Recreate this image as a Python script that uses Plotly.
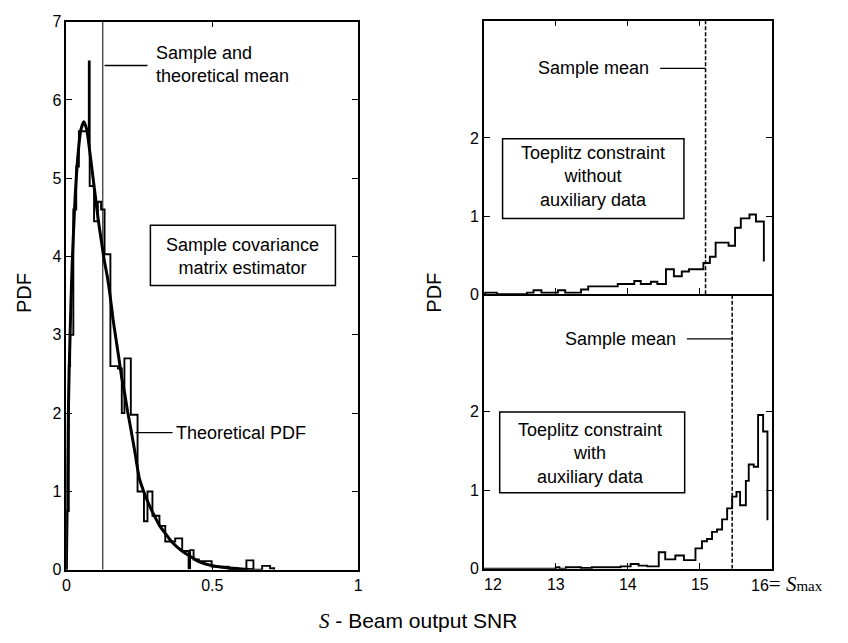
import plotly.graph_objects as go

W, H = 848, 643

# ---------------- data ----------------
# Left panel: sample covariance matrix estimator (histogram as step series)
left_hist_x = [0.000, 0.0085, 0.013, 0.024, 0.034, 0.043, 0.077, 0.080, 0.095, 0.108,
               0.119, 0.131, 0.151, 0.177, 0.190, 0.199, 0.221, 0.244, 0.266, 0.278,
               0.295, 0.319, 0.339, 0.373, 0.397, 0.419, 0.424, 0.436, 0.454, 0.498,
               0.556, 0.617, 0.641, 0.671, 0.698, 0.712]
left_hist_y = [0.75, 2.6, 3.0, 4.6, 5.15, 5.6, 6.49, 4.9, 4.45, 4.7,
               4.6, 4.03, 2.6, 2.57, 2.0, 2.7, 1.98, 1.0, 0.62, 1.0,
               0.69, 0.56, 0.36, 0.40, 0.24, 0.02, 0.25, 0.13, 0.11, 0.04,
               0.01, 0.12, 0.0, 0.05, 0.02, 0.0]

theory_x = [0.000, 0.003, 0.006, 0.010, 0.015, 0.020, 0.025, 0.030, 0.040, 0.050,
            0.060, 0.070, 0.080, 0.090, 0.100, 0.110, 0.120, 0.130, 0.140, 0.150,
            0.160, 0.170, 0.180, 0.190, 0.200, 0.210, 0.220, 0.235, 0.250, 0.265,
            0.280, 0.300, 0.320, 0.340, 0.360, 0.380, 0.400, 0.425, 0.450, 0.480,
            0.510, 0.540, 0.570, 0.600, 0.640]
theory_y = [0.0, 0.9, 1.8, 2.6, 3.3, 3.9, 4.35, 4.75, 5.3, 5.62,
            5.72, 5.62, 5.35, 5.05, 4.75, 4.45, 4.2, 3.95, 3.75, 3.5,
            3.2, 2.95, 2.7, 2.45, 2.25, 2.02, 1.82, 1.5, 1.17, 1.0,
            0.86, 0.7, 0.56, 0.46, 0.36, 0.29, 0.23, 0.17, 0.11, 0.07,
            0.045, 0.03, 0.02, 0.01, 0.0]

left_mean = 0.125

# Right top: Toeplitz constraint without auxiliary data
top_x = [12.00, 12.02, 12.18, 12.60, 12.69, 12.80, 13.03, 13.13, 13.35, 13.45,
         13.86, 14.09, 14.18, 14.32, 14.41, 14.53, 14.64, 14.75, 14.85, 15.05,
         15.14, 15.22, 15.40, 15.49, 15.57, 15.69, 15.78, 15.89]
top_y = [0.0, 0.02, 0.0, 0.02, 0.05, 0.02, 0.05, 0.02, 0.06, 0.10,
         0.13, 0.17, 0.13, 0.16, 0.13, 0.32, 0.23, 0.29, 0.32, 0.40,
         0.48, 0.66, 0.62, 0.85, 0.97, 1.02, 0.93, 0.42]
top_mean = 15.08

# Right bottom: Toeplitz constraint with auxiliary data
bot_x = [12.00, 13.00, 13.05, 13.14, 13.35, 13.50, 13.90, 14.04, 14.15, 14.27,
         14.43, 14.52, 14.66, 14.78, 14.94, 15.03, 15.10, 15.17, 15.24, 15.31,
         15.38, 15.45, 15.51, 15.56, 15.64, 15.68, 15.75, 15.81, 15.88, 15.94]
bot_y = [0.0, 0.02, 0.0, 0.02, 0.01, 0.02, 0.03, 0.06, 0.04, 0.03,
         0.21, 0.12, 0.17, 0.11, 0.26, 0.35, 0.38, 0.47, 0.50, 0.63,
         0.77, 0.92, 0.98, 0.81, 1.12, 1.33, 1.30, 1.96, 1.75, 0.62]
bot_mean = 15.45

left_xticks = [0, 0.5, 1]
left_xtick_text = ["0", "0.5", "1"]
left_yticks = [0, 1, 2, 3, 4, 5, 6, 7]
right_xticks = [13, 14, 15]
right_xtick_text = ["13", "14", "15"]
right_yticks = [0, 1, 2]

# ---------------- figure ----------------
fig = go.Figure()
BLK = "black"

fig.add_trace(go.Scatter(x=[left_hist_x[0]] + left_hist_x, y=[0] + left_hist_y,
                         mode="lines", line=dict(shape="hv", color=BLK, width=1.9),
                         xaxis="x", yaxis="y", hoverinfo="skip"))
fig.add_trace(go.Scatter(x=theory_x, y=theory_y, mode="lines",
                         line=dict(color=BLK, width=3, shape="spline", smoothing=0.6),
                         xaxis="x", yaxis="y", hoverinfo="skip"))
fig.add_trace(go.Scatter(x=[left_mean, left_mean], y=[0, 7], mode="lines",
                         line=dict(color=BLK, width=1), xaxis="x", yaxis="y", hoverinfo="skip"))

fig.add_trace(go.Scatter(x=top_x, y=top_y, mode="lines",
                         line=dict(shape="hv", color=BLK, width=1.9),
                         xaxis="x2", yaxis="y2", hoverinfo="skip"))
fig.add_trace(go.Scatter(x=[top_mean, top_mean], y=[0, 3.5], mode="lines",
                         line=dict(color=BLK, width=1.5, dash="4px,2px"),
                         xaxis="x2", yaxis="y2", hoverinfo="skip"))

fig.add_trace(go.Scatter(x=bot_x, y=bot_y, mode="lines",
                         line=dict(shape="hv", color=BLK, width=1.9),
                         xaxis="x3", yaxis="y3", hoverinfo="skip"))
fig.add_trace(go.Scatter(x=[bot_mean, bot_mean], y=[0, 3.5], mode="lines",
                         line=dict(color=BLK, width=1.5, dash="4px,2px"),
                         xaxis="x3", yaxis="y3", hoverinfo="skip"))

axis_common = dict(showline=True, linecolor=BLK, linewidth=1.5,
                   ticks="inside", ticklen=6, tickwidth=1.3, tickcolor=BLK,
                   showgrid=False, zeroline=False,
                   tickfont=dict(family="Liberation Sans, Arial", size=16, color=BLK))

fig.update_layout(
    width=W, height=H, margin=dict(l=0, r=0, t=0, b=0),
    paper_bgcolor="white", plot_bgcolor="white", showlegend=False,
    font=dict(family="Liberation Sans, Arial", size=16, color=BLK),
    xaxis=dict(domain=[63 / W, 358 / W], range=[0, 1], anchor="y", mirror="ticks",
               tickvals=left_xticks, ticktext=left_xtick_text, **axis_common),
    yaxis=dict(domain=[1 - 577 / H, 1 - 14 / H], range=[0, 7], anchor="x", mirror="ticks",
               tickvals=left_yticks, **axis_common),
    xaxis2=dict(domain=[485 / W, 776 / W], range=[12, 16], anchor="y2", mirror="ticks",
                tickvals=right_xticks, showticklabels=False, **axis_common),
    yaxis2=dict(domain=[1 - 294 / H, 1 - 13 / H], range=[0, 3.5], anchor="x2", mirror="ticks",
                tickvals=right_yticks, **axis_common),
    xaxis3=dict(domain=[485 / W, 776 / W], range=[12, 16], anchor="y3", mirror=False,
                tickvals=right_xticks, ticktext=right_xtick_text, **axis_common),
    yaxis3=dict(domain=[1 - 576 / H, 1 - 294 / H], range=[0, 3.5], anchor="x3", mirror="ticks",
                tickvals=right_yticks, **axis_common),
)

ann_font = dict(family="Liberation Sans, Arial", size=18, color=BLK)
serif = "font-family:'Liberation Serif', 'DejaVu Serif', serif"

annotations = [
    dict(text="Sample and<br>theoretical mean", xref="x", yref="y", x=0.302, y=6.45,
         xanchor="left", yanchor="middle", align="left", showarrow=False, font=ann_font),
    dict(text="Theoretical PDF", xref="x", yref="y", x=0.368, y=1.75,
         xanchor="left", yanchor="middle", showarrow=False, font=ann_font),
    dict(text="Sample covariance<br>matrix estimator", xref="x", yref="y", x=0.605, y=4.0,
         xanchor="center", yanchor="middle", align="center", showarrow=False, font=ann_font),
    dict(text="Sample mean", xref="x2", yref="y2", x=13.53, y=2.89,
         xanchor="center", yanchor="middle", showarrow=False, font=ann_font),
    dict(text="Toeplitz constraint<br>without<br>auxiliary data", xref="x2", yref="y2",
         x=13.52, y=1.5, xanchor="center", yanchor="middle", align="center",
         showarrow=False, font=ann_font),
    dict(text="Sample mean", xref="x3", yref="y3", x=13.9, y=2.93,
         xanchor="center", yanchor="middle", showarrow=False, font=ann_font),
    dict(text="Toeplitz constraint<br>with<br>auxiliary data", xref="x3", yref="y3",
         x=13.47, y=1.47, xanchor="center", yanchor="middle", align="center",
         showarrow=False, font=ann_font),
    dict(text="12", xref="x3", yref="paper", x=12, xshift=9, y=1 - 592 / H,
         xanchor="center", yanchor="middle", showarrow=False,
         font=dict(family="Liberation Sans, Arial", size=16, color=BLK)),
    dict(text=(f"16<span style=\"{serif};font-size:21px\">= <i>S</i></span>"
               f"<span style=\"{serif};font-size:15px\">max</span>"),
         xref="x3", yref="paper", x=16, xshift=-23, y=1 - 592 / H,
         xanchor="left", yanchor="middle", showarrow=False,
         font=dict(family="Liberation Sans, Arial", size=16, color=BLK)),
    dict(text=f"<span style=\"{serif}\"><i>S</i></span> - Beam output SNR",
         xref="paper", yref="paper", x=418 / W, y=1 - 630 / H,
         xanchor="center", yanchor="middle", showarrow=False,
         font=dict(family="Liberation Sans, Arial", size=21, color=BLK)),
    dict(text="PDF", xref="paper", yref="paper", x=20 / W, y=1 - 293 / H, textangle=-90,
         xanchor="center", yanchor="middle", showarrow=False,
         font=dict(family="Liberation Sans, Arial", size=20, color=BLK)),
    dict(text="PDF", xref="paper", yref="paper", x=435 / W, y=1 - 292 / H, textangle=-90,
         xanchor="center", yanchor="middle", showarrow=False,
         font=dict(family="Liberation Sans, Arial", size=20, color=BLK)),
]
fig.update_layout(annotations=annotations)

line_style = dict(color=BLK, width=1.3)
shapes = [
    dict(type="line", xref="x", yref="y", x0=0.131, x1=0.278, y0=6.44, y1=6.44, line=line_style),
    dict(type="line", xref="x", yref="y", x0=0.237, x1=0.364, y0=1.75, y1=1.75, line=line_style),
    dict(type="rect", xref="x", yref="y", x0=0.288, x1=0.922, y0=3.63, y1=4.40,
         line=dict(color=BLK, width=1.5)),
    dict(type="line", xref="x2", yref="y2", x0=14.45, x1=15.08, y0=2.89, y1=2.89, line=line_style),
    dict(type="rect", xref="x2", yref="y2", x0=12.26, x1=14.78, y0=0.97, y1=1.99,
         line=dict(color=BLK, width=1.5)),
    dict(type="line", xref="x3", yref="y3", x0=14.82, x1=15.45, y0=2.93, y1=2.93, line=line_style),
    dict(type="rect", xref="x3", yref="y3", x0=12.22, x1=14.79, y0=0.97, y1=2.0,
         line=dict(color=BLK, width=1.5)),
]
fig.update_layout(shapes=shapes)

fig.write_html("out.html")
